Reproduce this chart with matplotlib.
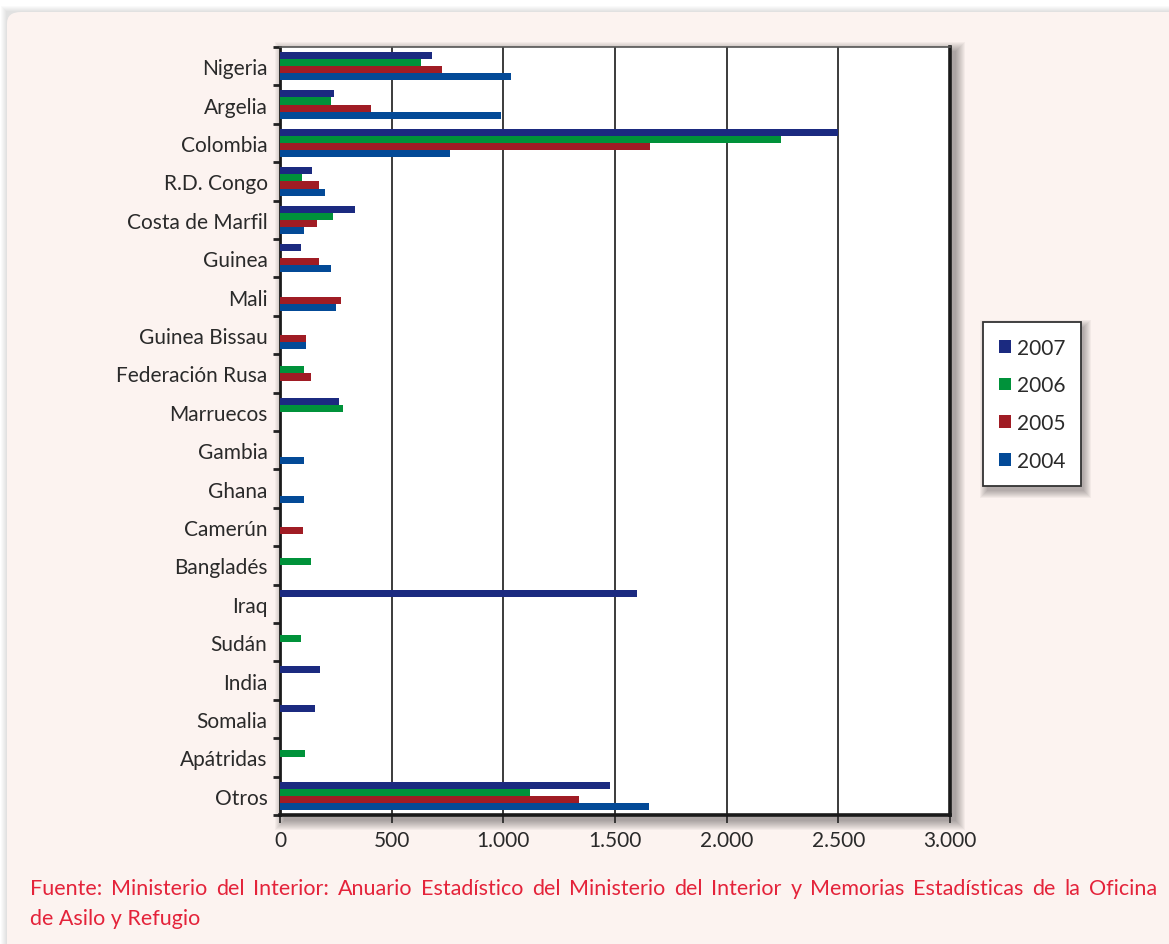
import matplotlib
matplotlib.use("Agg")
import matplotlib.pyplot as plt
from matplotlib.patches import Rectangle, FancyBboxPatch
import numpy as np

countries = ["Nigeria", "Argelia", "Colombia", "R.D. Congo", "Costa de Marfil",
             "Guinea", "Mali", "Guinea Bissau", "Federación Rusa", "Marruecos",
             "Gambia", "Ghana", "Camerún", "Bangladés", "Iraq", "Sudán",
             "India", "Somalia", "Apátridas", "Otros"]
years = ["2007", "2006", "2005", "2004"]
v2007 = [680, 243, 2500, 143, 336, 93, 0, 0, 0, 265, 0, 0, 0, 0, 1600, 0, 179, 157, 0, 1478]
v2006 = [631, 228, 2244, 99, 237, 0, 0, 0, 107, 281, 0, 0, 0, 137, 0, 94, 0, 0, 112, 1120]
v2005 = [725, 407, 1657, 174, 166, 173, 273, 115, 137, 0, 0, 0, 101, 0, 0, 0, 0, 0, 0, 1340]
v2004 = [1034, 989, 761, 201, 107, 228, 251, 115, 0, 0, 107, 107, 0, 0, 0, 0, 0, 0, 0, 1650]
xticks = [0, 500, 1000, 1500, 2000, 2500, 3000]
xtick_labels = ["0", "500", "1.000", "1.500", "2.000", "2.500", "3.000"]
source_line1 = ("Fuente: Ministerio del Interior: Anuario Estadístico del Ministerio "
                "del Interior y Memorias Estadísticas de la Oficina")
source_line2 = "de Asilo y Refugio"

colors = ["#1b2a80", "#00923a", "#a01c24", "#034a97"]
text_col = "#2a2a2a"
red_text = "#e4233a"
bg_col = "#fcf3f0"
FONT = "Lato"
FS = 15

W, H = 1169, 945


def fx(px):
    return px / W


def fy(py):
    return 1 - py / H


def soft_shadow(fig, x0, y0, x1, y1, dx=4, dy=4, spread=10, layers=10, alpha=0.03, z=-1):
    # stacked translucent rects -> cheap blurred drop shadow (pixel coords, top-left origin)
    for i in range(layers):
        r = spread * (1 - i / layers)
        fig.patches.append(Rectangle((fx(x0 + dx - r), fy(y1 + dy + r)),
                                     fx(x1 - x0 + 2 * r), (y1 - y0 + 2 * r) / H,
                                     transform=fig.transFigure, facecolor="black",
                                     edgecolor="none", alpha=alpha, zorder=z))


plt.rcParams['font.family'] = [FONT, 'DejaVu Sans']

fig = plt.figure(figsize=(W / 100, H / 100), dpi=100)
fig.patch.set_facecolor("white")

# rounded page background
soft_shadow(fig, 7, 13, W + 30, H + 30, dx=0, dy=0, spread=6, layers=6, alpha=0.02, z=-3)
fig.patches.append(FancyBboxPatch((fx(7), 0 - 0.05), 1.1, fy(13) + 0.05,
                                  boxstyle="round,pad=0,rounding_size=0.012",
                                  transform=fig.transFigure, facecolor=bg_col,
                                  edgecolor="none", zorder=-2))

ax_l, ax_r, ax_t, ax_b = 280, 950, 48, 816
soft_shadow(fig, ax_l, ax_t, ax_r, ax_b, dx=5, dy=5, spread=10, layers=10, alpha=0.035)
ax = fig.add_axes([fx(ax_l), fy(ax_b), fx(ax_r - ax_l), (ax_b - ax_t) / H])
ax.set_facecolor("white")

y = np.arange(len(countries))
h = 0.185
series = [v2007, v2006, v2005, v2004]
for i, (vals, col, lab) in enumerate(zip(series, colors, years)):
    ax.barh(y + (i - 1.5) * h, vals, height=h, color=col, linewidth=0,
            label=lab, zorder=3)

ax.set_xlim(0, 3000)
ax.set_ylim(len(countries) - 0.5, -0.5)

ax.set_xticks(xticks)
ax.set_xticklabels(xtick_labels, fontsize=FS, color=text_col)
ax.set_yticks(y)
ax.set_yticklabels(countries, fontsize=FS, color=text_col)
ax.set_yticks(np.arange(len(countries) + 1) - 0.5, minor=True)
ax.tick_params(axis="y", which="major", length=0, pad=9)
ax.tick_params(axis="y", which="minor", length=5, width=2, color="#222222", direction="out")
ax.tick_params(axis="x", which="major", length=6, width=1.2, color="#222222", pad=5)

ax.grid(axis="x", color="#1a1a1a", linewidth=1.2, zorder=1)
ax.set_axisbelow(True)
for side, lw in [("left", 2.0), ("bottom", 2.6), ("right", 2.6), ("top", 1.2)]:
    ax.spines[side].set_linewidth(lw)
    ax.spines[side].set_color("#1a1a1a" if side != "top" else "#555555")

# legend with soft shadow
lg_l, lg_t, lg_r, lg_b = 983, 323, 1078, 485
soft_shadow(fig, lg_l, lg_t, lg_r, lg_b, dx=5, dy=6, spread=8, layers=8, alpha=0.04)
leg = ax.legend(loc="upper left", bbox_to_anchor=(fx(lg_l), fy(lg_t)),
                bbox_transform=fig.transFigure, borderaxespad=0, fancybox=False,
                framealpha=1, edgecolor="#333333", fontsize=FS,
                handlelength=0.58, handleheight=0.58, handletextpad=0.3,
                labelspacing=0.85, borderpad=0.75)
leg.get_frame().set_linewidth(1.3)
for t in leg.get_texts():
    t.set_color(text_col)

# justified source note
renderer = fig.canvas.get_renderer()


def justified_line(words, x0, x1, ypx, fs):
    texts = [fig.text(0, fy(ypx), w, fontsize=fs, color=red_text, va="center")
             for w in words]
    widths = [t.get_window_extent(renderer).width for t in texts]
    gap = (x1 - x0 - sum(widths)) / (len(words) - 1)
    x = x0
    for t, w in zip(texts, widths):
        t.set_x(fx(x))
        x += w + gap


justified_line(source_line1.split(), 30, 1157, 889, 15.5)
fig.text(fx(30), fy(919), source_line2, fontsize=15.5, color=red_text, va="center")

fig.savefig("out.png", dpi=100)
